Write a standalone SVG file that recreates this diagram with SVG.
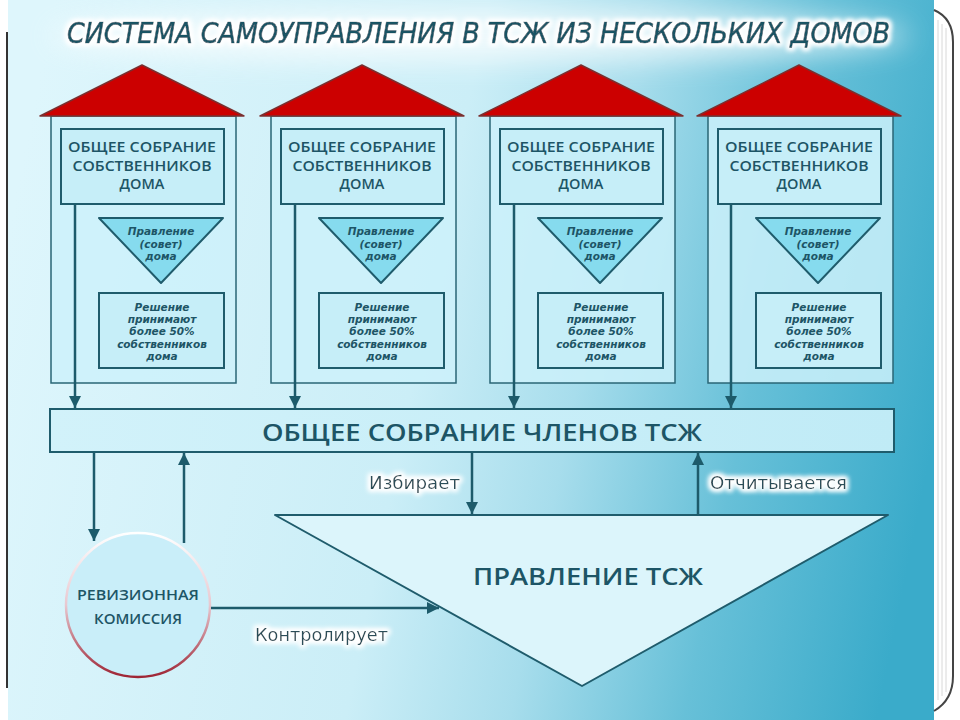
<svg xmlns="http://www.w3.org/2000/svg" width="960" height="720" viewBox="0 0 960 720">
<defs>
<linearGradient id="bg" gradientUnits="userSpaceOnUse" x1="0" y1="270" x2="930" y2="456">
<stop offset="0" stop-color="#def6fc"/>
<stop offset="0.45" stop-color="#cbeef7"/>
<stop offset="0.62" stop-color="#a7ddec"/>
<stop offset="0.8" stop-color="#67c0d8"/>
<stop offset="1" stop-color="#3aabca"/>
</linearGradient>
<linearGradient id="bar" x1="0" y1="0" x2="1" y2="0">
<stop offset="0" stop-color="#d2f2fa"/>
<stop offset="1" stop-color="#c0ebf6"/>
</linearGradient>
<linearGradient id="ring" x1="0" y1="0" x2="0" y2="1">
<stop offset="0" stop-color="#ffffff"/>
<stop offset="0.5" stop-color="#e8c8d0"/>
<stop offset="1" stop-color="#9e2535"/>
</linearGradient>
<filter id="glow" x="-10%" y="-60%" width="120%" height="220%">
<feMorphology in="SourceAlpha" operator="dilate" radius="2" result="d"/>
<feGaussianBlur in="d" stdDeviation="2.5" result="b"/>
<feFlood flood-color="#ffffff"/>
<feComposite in2="b" operator="in" result="w"/>
<feMerge><feMergeNode in="w"/><feMergeNode in="w"/><feMergeNode in="SourceGraphic"/></feMerge>
</filter>
<filter id="soft" x="-20%" y="-100%" width="140%" height="300%">
<feGaussianBlur stdDeviation="14"/>
</filter>
<marker id="ah" viewBox="0 0 10 10" refX="10" refY="5" markerWidth="12" markerHeight="12" markerUnits="userSpaceOnUse" orient="auto">
<path d="M0,0 L10,5 L0,10 z" fill="#1d5b6b"/>
</marker>
<style>
.roof{fill:#cc0000;stroke:#7a3030;stroke-width:1.5;stroke-linejoin:round}
.body{fill:#cdf1fa;fill-opacity:0.85;stroke:#2a6676;stroke-width:1.5}
.box{fill:#c6eef8;stroke:#1f5c6c;stroke-width:2}
.tri{fill:#86dbee;stroke:#1f5c6c;stroke-width:2;stroke-linejoin:round}
.cap{font-family:"Open Sans","DejaVu Sans",sans-serif;font-weight:600;fill:#1d5566;text-anchor:middle}
.it{font-family:"DejaVu Sans",sans-serif;font-weight:bold;font-style:italic;fill:#1d5566;text-anchor:middle;font-size:10.5px}
.lbl{font-family:"DejaVu Sans",sans-serif;fill:#2a4d58;font-size:17px}
.ln{stroke:#1d5b6b;stroke-width:2.5;fill:none}
</style>
</defs>

<rect x="0" y="0" width="960" height="720" fill="#ffffff"/>
<rect x="8" y="0" width="926" height="720" fill="url(#bg)"/>
<ellipse cx="480" cy="36" rx="430" ry="26" fill="#ffffff" opacity="0.7" filter="url(#soft)"/>

<g id="page-edge" fill="none">
<line x1="938" y1="20" x2="938" y2="700" stroke="#d8d8d8" stroke-width="1"/>
<line x1="942" y1="24" x2="942" y2="696" stroke="#d8d8d8" stroke-width="1"/>
<line x1="946" y1="28" x2="946" y2="692" stroke="#d8d8d8" stroke-width="1"/>
<path d="M934,10 Q953,18 953,42 L953,676 Q953,700 934,711" stroke="#444" stroke-width="2"/>
<line x1="7" y1="32" x2="7" y2="688" stroke="#333" stroke-width="2"/>
</g>

<g id="title">
<text x="67" y="43" font-family="DejaVu Sans Condensed, DejaVu Sans, sans-serif" font-stretch="condensed" font-style="italic" font-size="28" fill="#1a5364" stroke="#1a5364" stroke-width="0.7" textLength="823" lengthAdjust="spacingAndGlyphs" filter="url(#glow)">СИСТЕМА САМОУПРАВЛЕНИЯ В ТСЖ ИЗ НЕСКОЛЬКИХ ДОМОВ</text>
</g>

<g id="house1">
<rect class="body" x="51" y="116" width="185" height="267"/>
<polygon class="roof" points="40,116 142,65 244,116"/>
<rect class="box" x="61" y="129" width="163" height="75"/>
<text class="cap" font-size="14.5"><tspan x="142" y="152" textLength="148" lengthAdjust="spacingAndGlyphs">ОБЩЕЕ СОБРАНИЕ</tspan><tspan x="142" y="171" textLength="139" lengthAdjust="spacingAndGlyphs">СОБСТВЕННИКОВ</tspan><tspan x="142" y="189">ДОМА</tspan></text>
<polygon class="tri" points="99,218 223,218 161,283"/>
<text class="it"><tspan x="161" y="235">Правление</tspan><tspan x="161" y="248">(совет)</tspan><tspan x="161" y="260">дома</tspan></text>
<rect class="box" x="99" y="293" width="125" height="75"/>
<text class="it"><tspan x="162" y="311">Решение</tspan><tspan x="162" y="323">принимают</tspan><tspan x="162" y="335">более 50%</tspan><tspan x="162" y="348">собственников</tspan><tspan x="162" y="360">дома</tspan></text>
</g>

<g id="house2" transform="translate(220,0)">
<rect class="body" x="51" y="116" width="185" height="267"/>
<polygon class="roof" points="40,116 142,65 244,116"/>
<rect class="box" x="61" y="129" width="163" height="75"/>
<text class="cap" font-size="14.5"><tspan x="142" y="152" textLength="148" lengthAdjust="spacingAndGlyphs">ОБЩЕЕ СОБРАНИЕ</tspan><tspan x="142" y="171" textLength="139" lengthAdjust="spacingAndGlyphs">СОБСТВЕННИКОВ</tspan><tspan x="142" y="189">ДОМА</tspan></text>
<polygon class="tri" points="99,218 223,218 161,283"/>
<text class="it"><tspan x="161" y="235">Правление</tspan><tspan x="161" y="248">(совет)</tspan><tspan x="161" y="260">дома</tspan></text>
<rect class="box" x="99" y="293" width="125" height="75"/>
<text class="it"><tspan x="162" y="311">Решение</tspan><tspan x="162" y="323">принимают</tspan><tspan x="162" y="335">более 50%</tspan><tspan x="162" y="348">собственников</tspan><tspan x="162" y="360">дома</tspan></text>
</g>

<g id="house3" transform="translate(439,0)">
<rect class="body" x="51" y="116" width="185" height="267"/>
<polygon class="roof" points="40,116 142,65 244,116"/>
<rect class="box" x="61" y="129" width="163" height="75"/>
<text class="cap" font-size="14.5"><tspan x="142" y="152" textLength="148" lengthAdjust="spacingAndGlyphs">ОБЩЕЕ СОБРАНИЕ</tspan><tspan x="142" y="171" textLength="139" lengthAdjust="spacingAndGlyphs">СОБСТВЕННИКОВ</tspan><tspan x="142" y="189">ДОМА</tspan></text>
<polygon class="tri" points="99,218 223,218 161,283"/>
<text class="it"><tspan x="161" y="235">Правление</tspan><tspan x="161" y="248">(совет)</tspan><tspan x="161" y="260">дома</tspan></text>
<rect class="box" x="99" y="293" width="125" height="75"/>
<text class="it"><tspan x="162" y="311">Решение</tspan><tspan x="162" y="323">принимают</tspan><tspan x="162" y="335">более 50%</tspan><tspan x="162" y="348">собственников</tspan><tspan x="162" y="360">дома</tspan></text>
</g>

<g id="house4" transform="translate(657,0)">
<rect class="body" x="51" y="116" width="185" height="267"/>
<polygon class="roof" points="40,116 142,65 244,116"/>
<rect class="box" x="61" y="129" width="163" height="75"/>
<text class="cap" font-size="14.5"><tspan x="142" y="152" textLength="148" lengthAdjust="spacingAndGlyphs">ОБЩЕЕ СОБРАНИЕ</tspan><tspan x="142" y="171" textLength="139" lengthAdjust="spacingAndGlyphs">СОБСТВЕННИКОВ</tspan><tspan x="142" y="189">ДОМА</tspan></text>
<polygon class="tri" points="99,218 223,218 161,283"/>
<text class="it"><tspan x="161" y="235">Правление</tspan><tspan x="161" y="248">(совет)</tspan><tspan x="161" y="260">дома</tspan></text>
<rect class="box" x="99" y="293" width="125" height="75"/>
<text class="it"><tspan x="162" y="311">Решение</tspan><tspan x="162" y="323">принимают</tspan><tspan x="162" y="335">более 50%</tspan><tspan x="162" y="348">собственников</tspan><tspan x="162" y="360">дома</tspan></text>
</g>

<g id="general-meeting">
<rect x="50" y="409" width="844" height="43" fill="url(#bar)" stroke="#1f5c6c" stroke-width="2"/>
<text class="cap" x="482" y="441" font-size="24" textLength="440" lengthAdjust="spacingAndGlyphs">ОБЩЕЕ СОБРАНИЕ ЧЛЕНОВ ТСЖ</text>
</g>

<g id="board">
<polygon points="275,515 888,515 582,686" fill="#dcf5fb" stroke="#1f5c6c" stroke-width="2" stroke-linejoin="round"/>
<text class="cap" x="588" y="585" font-size="23" textLength="230" lengthAdjust="spacingAndGlyphs">ПРАВЛЕНИЕ ТСЖ</text>
</g>

<g id="audit">
<circle cx="138" cy="605" r="72" fill="#c9eef9" stroke="url(#ring)" stroke-width="2.5"/>
<text class="cap" font-size="14" font-weight="700"><tspan x="138" y="600" textLength="122" lengthAdjust="spacingAndGlyphs">РЕВИЗИОННАЯ</tspan><tspan x="138" y="624" textLength="88" lengthAdjust="spacingAndGlyphs">КОМИССИЯ</tspan></text>
</g>

<g id="connectors">
<line class="ln" x1="75" y1="204" x2="75" y2="408" marker-end="url(#ah)"/>
<line class="ln" x1="295" y1="204" x2="295" y2="408" marker-end="url(#ah)"/>
<line class="ln" x1="514" y1="204" x2="514" y2="408" marker-end="url(#ah)"/>
<line class="ln" x1="731" y1="204" x2="731" y2="408" marker-end="url(#ah)"/>
<line class="ln" x1="94" y1="452" x2="94" y2="541" marker-end="url(#ah)"/>
<line class="ln" x1="184" y1="543" x2="184" y2="453" marker-end="url(#ah)"/>
<line class="ln" x1="211" y1="608" x2="439" y2="608" marker-end="url(#ah)"/>
<line class="ln" x1="472" y1="452" x2="472" y2="514" marker-end="url(#ah)"/>
<line class="ln" x1="698" y1="515" x2="698" y2="453" marker-end="url(#ah)"/>
<text class="lbl" x="369" y="489" textLength="91" lengthAdjust="spacingAndGlyphs" filter="url(#glow)">Избирает</text>
<text class="lbl" x="710" y="489" textLength="137" lengthAdjust="spacingAndGlyphs" filter="url(#glow)">Отчитывается</text>
<text class="lbl" x="255" y="641" textLength="133" lengthAdjust="spacingAndGlyphs" filter="url(#glow)">Контролирует</text>
</g>
</svg>
